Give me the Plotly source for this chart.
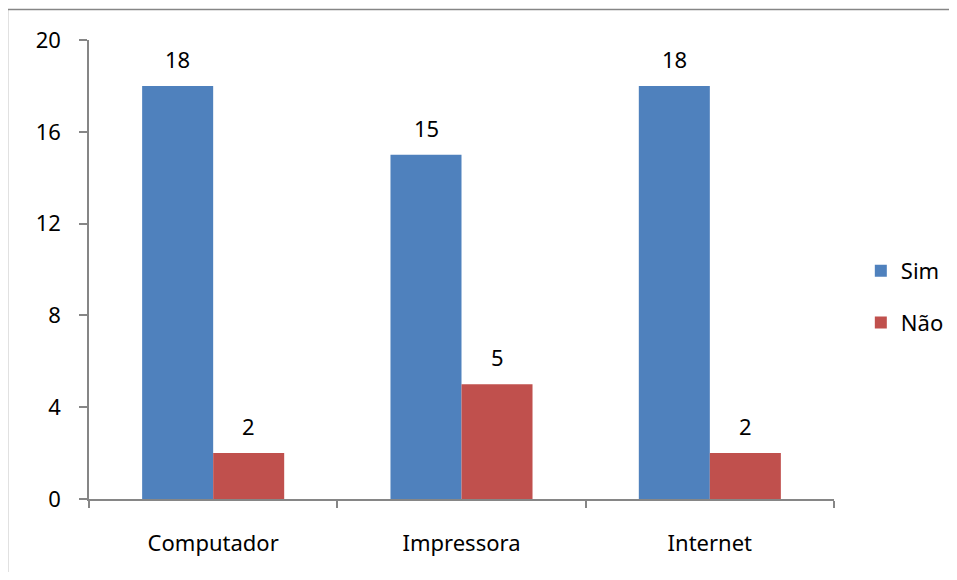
import plotly.graph_objects as go

categories = ["Computador", "Impressora", "Internet"]
sim_values = [18, 15, 18]
nao_values = [2, 5, 2]
series_names = ["Sim", "Não"]
y_ticks = [0, 4, 8, 12, 16, 20]

FONT = "Noto Sans"
FS = 22
AXIS_COLOR = "#868686"

fig = go.Figure()
fig.add_trace(go.Bar(x=categories, y=sim_values, name=series_names[0],
                     marker=dict(color="#4F81BD", line=dict(width=0)),
                     legendgroup="a"))
fig.add_trace(go.Bar(x=categories, y=nao_values, name=series_names[1],
                     marker=dict(color="#C0504D", line=dict(width=0)),
                     legendgroup="b"))

annotations = []
for vals, shift in ((sim_values, -35.5), (nao_values, 35.5)):
    for c, v in zip(categories, vals):
        annotations.append(dict(x=c, y=v, xref="x", yref="y", text=str(v),
                                showarrow=False, xshift=shift, yshift=27,
                                yanchor="middle",
                                font=dict(family=FONT, size=FS, color="black")))

fig.update_layout(
    width=941, height=564,
    margin=dict(l=81, r=115, t=32, b=73, autoexpand=False),
    paper_bgcolor="white", plot_bgcolor="white",
    barmode="group", bargap=0.428, bargroupgap=0,
    font=dict(family=FONT, size=FS, color="black"),
    showlegend=True,
    legend=dict(x=1.036, y=0.44, xanchor="left", yanchor="middle",
                traceorder="grouped", tracegroupgap=20,
                font=dict(family=FONT, size=FS, color="black"),
                itemwidth=30),
    annotations=annotations,
    xaxis=dict(type="category", showline=True, linecolor=AXIS_COLOR, linewidth=1.5,
               ticks="outside", tickson="boundaries", ticklen=7, tickcolor=AXIS_COLOR,
               tickwidth=1.5, showgrid=False, ticklabelstandoff=24,
               tickfont=dict(family=FONT, size=FS, color="black")),
    yaxis=dict(range=[0, 20], tickvals=y_ticks, showline=True, linecolor=AXIS_COLOR,
               linewidth=1.5, ticks="outside", ticklen=8, tickcolor=AXIS_COLOR,
               tickwidth=1.5, showgrid=False, zeroline=False, ticklabelstandoff=14,
               tickfont=dict(family=FONT, size=FS, color="black")),
    shapes=[
        dict(type="line", xref="paper", yref="paper",
             x0=-0.1094, x1=-0.1094, y0=-0.3, y1=1.0664,
             line=dict(color=AXIS_COLOR, width=1.5), layer="below"),
        dict(type="line", xref="paper", yref="paper",
             x0=-0.1094, x1=1.5, y0=1.0664, y1=1.0664,
             line=dict(color=AXIS_COLOR, width=1.5), layer="below"),
    ],
)

fig.write_html("out.html")
